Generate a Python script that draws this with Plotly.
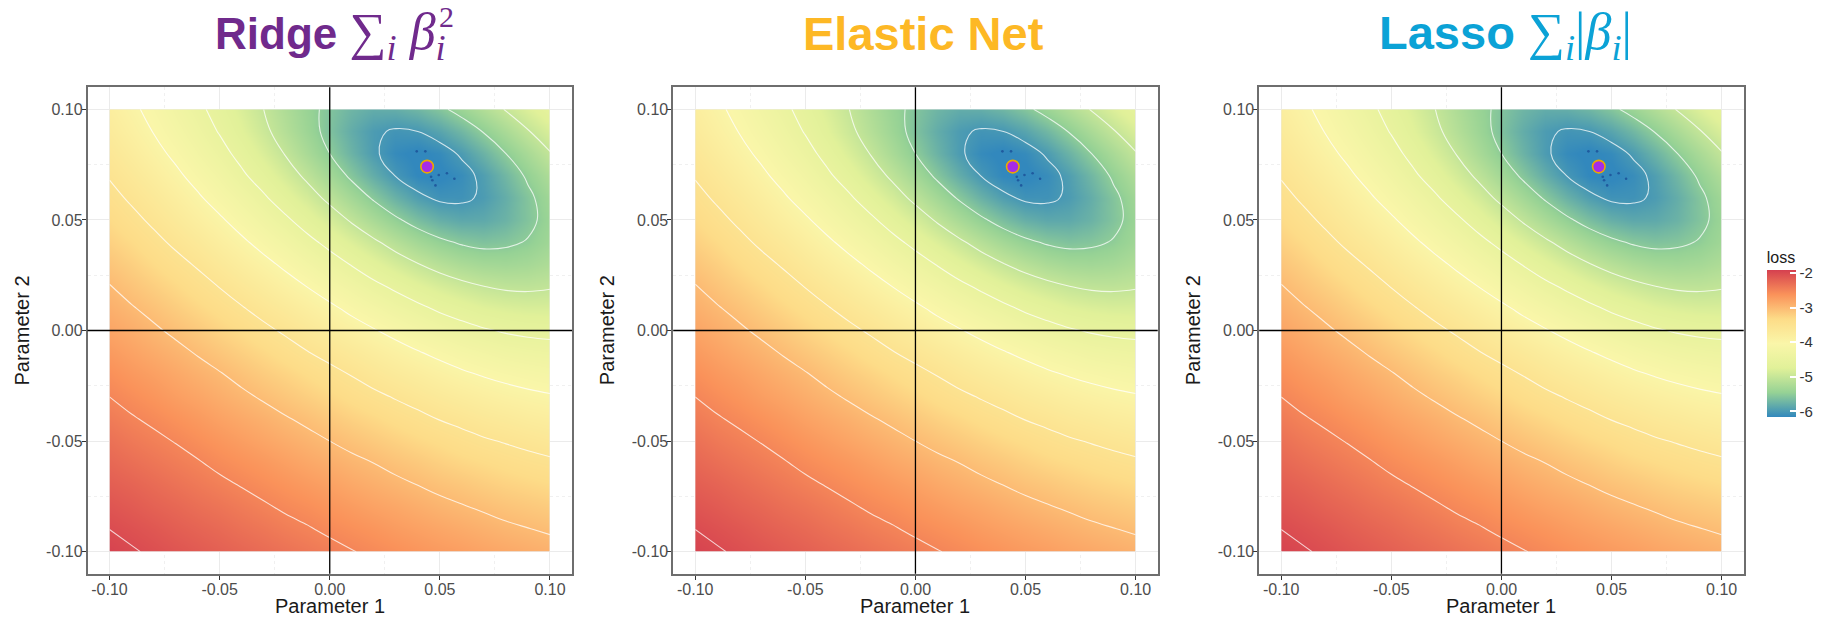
import plotly.graph_objects as go

# ---------------- data ----------------
param1 = [-0.10, -0.09, -0.08, -0.07, -0.06, -0.05, -0.04, -0.03, -0.02, -0.01, 0.00,
          0.01, 0.02, 0.03, 0.04, 0.05, 0.06, 0.07, 0.08, 0.09, 0.10]
param2 = [0.10, 0.09, 0.08, 0.07, 0.06, 0.05, 0.04, 0.03, 0.02, 0.01, 0.00,
          -0.01, -0.02, -0.03, -0.04, -0.05, -0.06, -0.07, -0.08, -0.09, -0.10]
# loss surface (rows follow param2, columns follow param1)
loss = [
    [-3.80, -3.94, -4.09, -4.26, -4.43, -4.61, -4.80, -5.00, -5.21, -5.41, -5.58, -5.72, -5.80, -5.79, -5.71, -5.57, -5.38, -5.18, -4.98, -4.78, -4.59],
    [-3.72, -3.86, -4.01, -4.17, -4.34, -4.52, -4.72, -4.93, -5.15, -5.37, -5.60, -5.80, -5.96, -6.03, -6.00, -5.88, -5.70, -5.48, -5.25, -5.02, -4.81],
    [-3.62, -3.76, -3.91, -4.06, -4.23, -4.40, -4.59, -4.80, -5.02, -5.26, -5.50, -5.74, -5.96, -6.12, -6.18, -6.12, -5.96, -5.74, -5.50, -5.26, -5.02],
    [-3.52, -3.65, -3.79, -3.94, -4.10, -4.26, -4.45, -4.64, -4.85, -5.07, -5.31, -5.56, -5.80, -6.01, -6.15, -6.18, -6.10, -5.93, -5.70, -5.45, -5.21],
    [-3.42, -3.54, -3.67, -3.81, -3.96, -4.12, -4.28, -4.46, -4.66, -4.86, -5.08, -5.31, -5.54, -5.76, -5.94, -6.05, -6.05, -5.96, -5.79, -5.57, -5.34],
    [-3.31, -3.43, -3.55, -3.68, -3.82, -3.96, -4.12, -4.28, -4.45, -4.64, -4.83, -5.04, -5.25, -5.45, -5.63, -5.77, -5.84, -5.83, -5.74, -5.58, -5.39],
    [-3.21, -3.31, -3.43, -3.55, -3.67, -3.81, -3.95, -4.10, -4.25, -4.42, -4.59, -4.77, -4.95, -5.13, -5.30, -5.44, -5.54, -5.59, -5.56, -5.48, -5.34],
    [-3.10, -3.20, -3.31, -3.42, -3.53, -3.66, -3.79, -3.92, -4.06, -4.21, -4.36, -4.52, -4.68, -4.84, -4.99, -5.12, -5.23, -5.30, -5.32, -5.29, -5.21],
    [-2.99, -3.09, -3.19, -3.29, -3.40, -3.51, -3.63, -3.75, -3.88, -4.01, -4.15, -4.28, -4.43, -4.56, -4.70, -4.82, -4.92, -5.00, -5.05, -5.06, -5.03],
    [-2.89, -2.98, -3.07, -3.17, -3.27, -3.37, -3.48, -3.59, -3.70, -3.82, -3.94, -4.07, -4.19, -4.32, -4.43, -4.55, -4.64, -4.73, -4.78, -4.81, -4.81],
    [-2.79, -2.87, -2.96, -3.05, -3.14, -3.24, -3.33, -3.44, -3.54, -3.65, -3.76, -3.87, -3.98, -4.09, -4.20, -4.30, -4.39, -4.47, -4.53, -4.57, -4.59],
    [-2.69, -2.77, -2.85, -2.93, -3.02, -3.11, -3.20, -3.29, -3.39, -3.49, -3.58, -3.68, -3.78, -3.88, -3.98, -4.07, -4.16, -4.23, -4.30, -4.34, -4.37],
    [-2.59, -2.67, -2.74, -2.82, -2.90, -2.98, -3.07, -3.16, -3.24, -3.33, -3.42, -3.51, -3.61, -3.70, -3.78, -3.87, -3.95, -4.02, -4.08, -4.13, -4.17],
    [-2.50, -2.57, -2.64, -2.72, -2.79, -2.87, -2.95, -3.03, -3.11, -3.19, -3.27, -3.36, -3.44, -3.52, -3.60, -3.68, -3.75, -3.82, -3.88, -3.93, -3.97],
    [-2.41, -2.48, -2.54, -2.61, -2.68, -2.76, -2.83, -2.90, -2.98, -3.05, -3.13, -3.21, -3.28, -3.36, -3.43, -3.51, -3.57, -3.64, -3.69, -3.75, -3.79],
    [-2.32, -2.39, -2.45, -2.51, -2.58, -2.65, -2.72, -2.79, -2.86, -2.93, -3.00, -3.07, -3.14, -3.21, -3.28, -3.34, -3.41, -3.47, -3.52, -3.57, -3.62],
    [-2.24, -2.30, -2.36, -2.42, -2.48, -2.55, -2.61, -2.67, -2.74, -2.81, -2.87, -2.94, -3.00, -3.07, -3.13, -3.20, -3.26, -3.31, -3.36, -3.41, -3.45],
    [-2.16, -2.21, -2.27, -2.33, -2.39, -2.45, -2.51, -2.57, -2.63, -2.69, -2.75, -2.82, -2.88, -2.94, -3.00, -3.06, -3.11, -3.17, -3.22, -3.26, -3.30],
    [-2.08, -2.13, -2.19, -2.24, -2.30, -2.35, -2.41, -2.47, -2.53, -2.58, -2.64, -2.70, -2.76, -2.81, -2.87, -2.93, -2.98, -3.03, -3.08, -3.12, -3.16],
    [-2.00, -2.05, -2.10, -2.16, -2.21, -2.26, -2.32, -2.37, -2.43, -2.48, -2.54, -2.59, -2.64, -2.70, -2.75, -2.80, -2.85, -2.90, -2.95, -2.99, -3.03],
    [-1.93, -1.98, -2.03, -2.08, -2.13, -2.18, -2.23, -2.28, -2.33, -2.38, -2.43, -2.49, -2.54, -2.59, -2.64, -2.69, -2.73, -2.78, -2.82, -2.86, -2.90],
]
contour_start, contour_end, contour_step = -6.0, -2.0, 0.5
loss_min, loss_max = -6.15, -1.90

# optimum and optimisation path points
opt_p1 = [0.0442]
opt_p2 = [0.0741]
path_p1 = [0.0395, 0.0434, 0.0460, 0.0466, 0.0495, 0.0532, 0.0566, 0.0480]
path_p2 = [0.0810, 0.0810, 0.0695, 0.0679, 0.0703, 0.0711, 0.0686, 0.0656]

tick_vals = [-0.10, -0.05, 0.00, 0.05, 0.10]
tick_text = ["-0.10", "-0.05", "0.00", "0.05", "0.10"]
minor_vals = [-0.075, -0.025, 0.025, 0.075]
cbar_vals = [-2, -3, -4, -5, -6]
cbar_text = ["-2", "-3", "-4", "-5", "-6"]
ref_lines = [0.0]

# ---------------- layout helpers ----------------
W, H = 1824, 629
def px(x):
    return x / W
def py(y):
    return 1 - y / H

spectral = [[0.0, "#3288BD"], [1 / 6, "#96D295"], [2 / 6, "#E1F199"], [3 / 6, "#FAF6A9"],
            [4 / 6, "#FDDC88"], [5 / 6, "#FA925A"], [1.0, "#D5404F"]]

panel_left = [87.5, 673.2, 1259.2]
panel_w = 484.5
top_px, bot_px = 87.2, 573.8
FONT = "Liberation Sans, Arial, sans-serif"

fig = go.Figure()
shapes = []
annotations = []

for i in range(3):
    xa = "x" if i == 0 else "x%d" % (i + 1)
    ya = "y" if i == 0 else "y%d" % (i + 1)
    fig.add_trace(go.Contour(
        x=param1, y=param2, z=loss, xaxis=xa, yaxis=ya,
        colorscale=spectral, zmin=loss_min, zmax=loss_max,
        contours=dict(coloring="heatmap", showlines=False,
                      start=contour_start, end=contour_end, size=contour_step),
        line=dict(width=0),
        showscale=(i == 0), hoverinfo="skip",
        colorbar=dict(
            x=px(1766.7), xanchor="left", xref="paper", xpad=0,
            y=py(332.0), yanchor="middle", ypad=0,
            len=169.4, lenmode="pixels", thickness=29, thicknessmode="pixels",
            outlinewidth=0, tickmode="array", tickvals=cbar_vals, ticktext=cbar_text,
            ticks="inside", ticklen=6, tickcolor="white", tickwidth=1.5,
            tickfont=dict(family=FONT, size=15, color="#333333"),
            title=dict(text="loss", side="top",
                       font=dict(family=FONT, size=16, color="#1a1a1a")),
        ),
    ))
    fig.add_trace(go.Contour(
        x=param1, y=param2, z=loss, xaxis=xa, yaxis=ya,
        contours=dict(coloring="none", showlines=True,
                      start=contour_start, end=contour_end, size=contour_step),
        line=dict(color="rgba(255,255,255,0.75)", width=1.1, smoothing=1.2),
        showscale=False, hoverinfo="skip",
    ))
    fig.add_trace(go.Scatter(
        x=path_p1, y=path_p2, xaxis=xa, yaxis=ya, mode="markers",
        marker=dict(size=2.6, color="#1F5A9E"), hoverinfo="skip",
    ))
    fig.add_trace(go.Scatter(
        x=opt_p1, y=opt_p2, xaxis=xa, yaxis=ya, mode="markers",
        marker=dict(size=12.5, color="#A62BE8", line=dict(color="#EBA800", width=1.6)),
        hoverinfo="skip",
    ))

    dom_x = [px(panel_left[i]), px(panel_left[i] + panel_w)]
    dom_y = [py(bot_px), py(top_px)]
    common = dict(
        range=[-0.11, 0.11], tickmode="array", tickvals=tick_vals, ticktext=tick_text,
        ticks="outside", ticklen=4, tickwidth=1, tickcolor="#333333",
        tickfont=dict(family=FONT, size=16, color="#4D4D4D"),
        showgrid=True, gridcolor="#EBEBEB", gridwidth=1.2, zeroline=False,
        minor=dict(tickvals=minor_vals, showgrid=True,
                   gridcolor="#F0F0F0", gridwidth=1, griddash="dot", ticks=""),
        showline=True, mirror=True, linecolor="#6E6E6E", linewidth=1.5,
        fixedrange=True,
    )
    fig.update_layout(**{
        ("xaxis" if i == 0 else "xaxis%d" % (i + 1)): dict(domain=dom_x, anchor=ya,
                                                           ticklabelstandoff=-4, **common),
        ("yaxis" if i == 0 else "yaxis%d" % (i + 1)): dict(domain=dom_y, anchor=xa,
                                                           ticklabelstandoff=-4, **common),
    })

    for r in ref_lines:
        shapes.append(dict(type="line", xref=xa, yref=ya + " domain", x0=r, x1=r, y0=0, y1=1,
                           line=dict(color="black", width=1.3), layer="above"))
        shapes.append(dict(type="line", xref=xa + " domain", yref=ya, x0=0, x1=1, y0=r, y1=r,
                           line=dict(color="black", width=1.3), layer="above"))

    cx = panel_left[i] + panel_w / 2
    annotations.append(dict(text="Parameter 1", x=px(cx), y=py(606), xref="paper", yref="paper",
                            showarrow=False, xanchor="center", yanchor="middle",
                            font=dict(family=FONT, size=20, color="#1a1a1a")))
    annotations.append(dict(text="Parameter 2", x=px(panel_left[i] - 66.5), y=py(330.5),
                            xref="paper", yref="paper", textangle=-90,
                            showarrow=False, xanchor="center", yanchor="middle",
                            font=dict(family=FONT, size=20, color="#1a1a1a")))

serif = "font-family:'Liberation Serif', 'DejaVu Serif', serif;font-size:52px"
ridge_col, enet_col, lasso_col = "#702A8C", "#FDB825", "#0BA2D6"
annotations.append(dict(
    text="<b>Ridge</b> <span style=\"%s\">∑<sub><i>i</i></sub> <i>β</i><sub><i>i</i></sub></span>" % serif,
    x=px(213), y=py(35), xref="paper", yref="paper", showarrow=False,
    xanchor="left", yanchor="middle",
    font=dict(family=FONT, size=44, color=ridge_col)))
annotations.append(dict(
    text="<span style=\"font-family:'Liberation Serif', 'DejaVu Serif', serif\">2</span>",
    x=px(446), y=py(16), xref="paper", yref="paper", showarrow=False,
    xanchor="center", yanchor="middle",
    font=dict(family=FONT, size=30, color=ridge_col)))
annotations.append(dict(
    text="<b>Elastic Net</b>",
    x=px(924), y=py(33), xref="paper", yref="paper", showarrow=False,
    xanchor="center", yanchor="middle",
    font=dict(family=FONT, size=47, color=enet_col)))
annotations.append(dict(
    text="<b>Lasso</b> <span style=\"%s\">∑<sub><i>i</i></sub>|<i>β</i><sub><i>i</i></sub>|</span>" % serif,
    x=px(1377), y=py(35), xref="paper", yref="paper", showarrow=False,
    xanchor="left", yanchor="middle",
    font=dict(family=FONT, size=47, color=lasso_col)))

fig.update_layout(
    width=W, height=H, margin=dict(l=0, r=0, t=0, b=0, autoexpand=False),
    paper_bgcolor="white", plot_bgcolor="white", showlegend=False,
    shapes=shapes, annotations=annotations,
)
fig.write_html(
    "out.html",
    config={"displayModeBar": False},
    post_script="document.body.style.margin='0';document.documentElement.style.overflow='hidden';",
)
